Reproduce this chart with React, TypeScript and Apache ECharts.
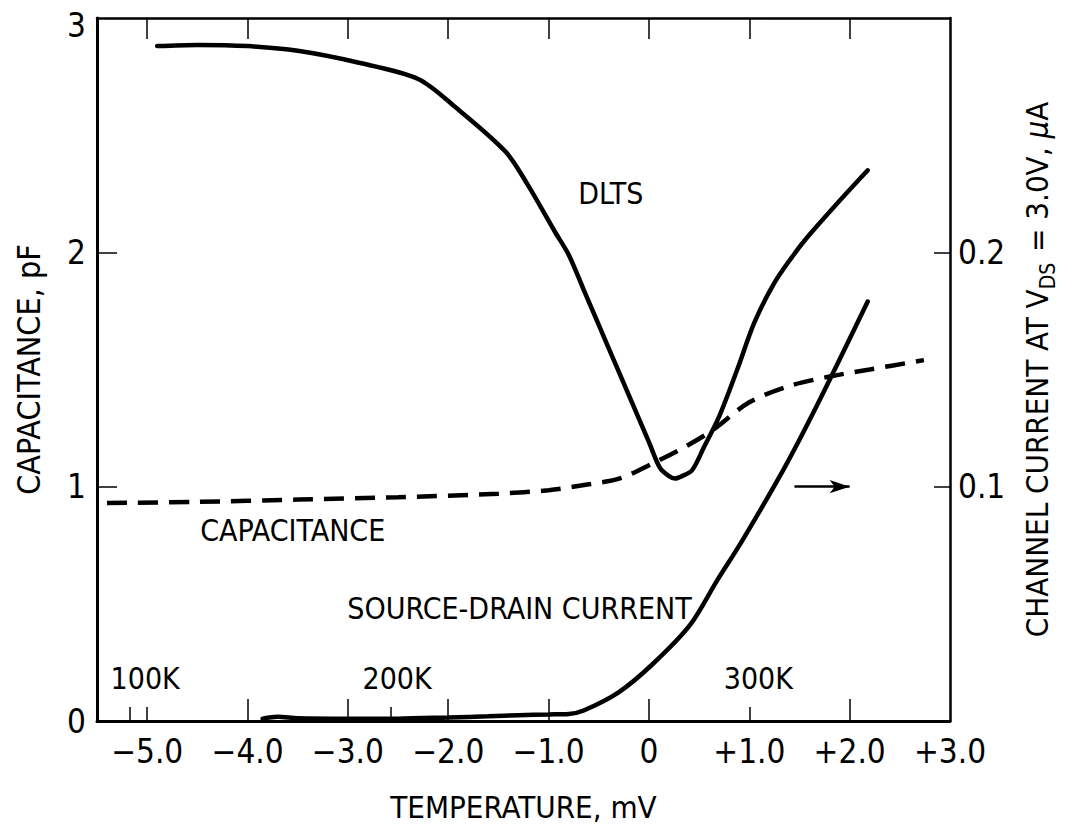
import React, { useEffect, useRef } from "react";
import * as echarts from "echarts";

const FONT = "'Liberation Sans Narrow', 'DejaVu Sans Condensed', 'Arial Narrow', sans-serif";

// Temperature axis (mV) tick labels and ticks
const xLabelValues = [-5, -4, -3, -2, -1, 0, 1, 2, 3];
const xTopTicks = [-5, -4, -3, -2, -1, 0, 1, 2];
const xBottomLongTicks = [-4, -3, -2, -1, 0, 2];
const xBottomShortTicks = [-5.17, -5, -2.57, 1];

// Left axis (capacitance, pF)
const capLabelValues = [0, 1, 2, 3];
const capTicks = [1, 2];
// Right axis (channel current, uA)
const curLabelValues = [0.1, 0.2];

// DLTS curve (mV, pF scale)
const dltsX = [-4.9, -4.5, -4.0, -3.5, -2.9, -2.3, -1.93, -1.43, -1.21, -0.94, -0.8, -0.65, -0.5, -0.35, -0.16, 0.0, 0.11, 0.2, 0.26, 0.33, 0.43, 0.55, 0.7, 0.88, 1.05, 1.25, 1.46, 1.61, 1.9, 2.18];
const dltsY = [2.88, 2.885, 2.88, 2.86, 2.81, 2.74, 2.62, 2.43, 2.29, 2.09, 1.99, 1.84, 1.69, 1.54, 1.35, 1.19, 1.08, 1.045, 1.035, 1.045, 1.07, 1.17, 1.3, 1.5, 1.7, 1.87, 2.0, 2.08, 2.22, 2.35];

// Capacitance curve (mV, pF)
const capX = [-5.4, -4.5, -3.5, -2.5, -1.5, -1.0, -0.6, -0.29, 0.04, 0.36, 0.63, 1.0, 1.4, 1.8, 2.2, 2.74];
const capY = [0.93, 0.935, 0.945, 0.955, 0.97, 0.985, 1.01, 1.035, 1.1, 1.17, 1.24, 1.36, 1.43, 1.47, 1.5, 1.54];

// Source-drain current (mV, uA)
const sdcX = [-3.85, -3.7, -3.5, -3.0, -2.5, -2.0, -1.6, -1.3, -1.0, -0.8, -0.65, -0.31, 0.03, 0.41, 0.68, 0.93, 1.35, 1.69, 2.18];
const sdcY = [0.001, 0.0018, 0.0012, 0.001, 0.001, 0.0015, 0.002, 0.0025, 0.0028, 0.003, 0.0045, 0.012, 0.024, 0.041, 0.06, 0.077, 0.108, 0.136, 0.179];

// Annotations (mV, pF)
const notes = [
  { text: "DLTS", x: -0.38, y: 2.25 },
  { text: "CAPACITANCE", x: -3.55, y: 0.815 },
  { text: "SOURCE-DRAIN CURRENT", x: -1.29, y: 0.48 },
  { text: "100K", x: -5.02, y: 0.18 },
  { text: "200K", x: -2.51, y: 0.18 },
  { text: "300K", x: 1.09, y: 0.18 },
];
const arrowFrom = [1.45, 1.0];
const arrowTo = [2.0, 1.0];

const zip = (a: number[], b: number[]) => a.map((v, i) => [v, b[i]]);

const fmtX = (v: number) => {
  if (Math.abs(v) < 1e-9) return "0";
  return (v < 0 ? "\u2212" : "+") + Math.abs(v).toFixed(1);
};

export default function App() {
  const ref = useRef<HTMLDivElement>(null);
  useEffect(() => {
    const chart = echarts.init(ref.current!, null, { renderer: "svg" });
    const black = "#000";
    const baseX = { type: "value", min: -5.5, max: 3, splitLine: { show: false } };
    chart.setOption({
      animation: false,
      backgroundColor: "#fff",
      grid: { left: 97, right: 106, top: 18, bottom: 102 },
      xAxis: [
        {
          ...baseX,
          position: "bottom",
          axisLine: { show: true, onZero: false, lineStyle: { color: black, width: 3 } },
          axisTick: { show: true, inside: true, length: 22, customValues: xBottomLongTicks, lineStyle: { color: black, width: 1.5 } },
          axisLabel: { customValues: xLabelValues, formatter: fmtX, color: black, fontSize: 33, fontFamily: FONT, margin: 14 },
          name: "TEMPERATURE, mV",
          nameLocation: "middle",
          nameGap: 70,
          nameTextStyle: { color: black, fontSize: 31, fontFamily: FONT },
        },
        {
          ...baseX,
          position: "top",
          axisLine: { show: true, onZero: false, lineStyle: { color: black, width: 2.5 } },
          axisTick: { show: true, inside: true, length: 21, customValues: xTopTicks, lineStyle: { color: black, width: 1.5 } },
          axisLabel: { show: false },
        },
        {
          ...baseX,
          position: "bottom",
          axisLine: { show: false, onZero: false },
          axisTick: { show: true, inside: true, length: 14, customValues: xBottomShortTicks, lineStyle: { color: black, width: 1.5 } },
          axisLabel: { show: false },
        },
      ],
      yAxis: [
        {
          type: "value",
          position: "left",
          min: 0,
          max: 3,
          interval: 1,
          splitLine: { show: false },
          axisLine: { show: true, onZero: false, lineStyle: { color: black, width: 3 } },
          axisTick: { show: true, inside: true, length: 20, customValues: capTicks, lineStyle: { color: black, width: 1.5 } },
          axisLabel: {
            customValues: capLabelValues,
            formatter: (v: number) => (v === 3 ? "{top|3}" : String(v)),
            rich: { top: { padding: [14, 0, 0, 0], fontSize: 33, fontFamily: FONT, color: black } },
            color: black,
            fontSize: 33,
            fontFamily: FONT,
            margin: 11,
          },
          name: "CAPACITANCE, pF",
          nameLocation: "middle",
          nameRotate: 90,
          nameGap: 52,
          nameTextStyle: { color: black, fontSize: 32, fontFamily: FONT },
        },
        {
          type: "value",
          position: "right",
          min: 0,
          max: 0.3,
          interval: 0.1,
          splitLine: { show: false },
          axisLine: { show: true, onZero: false, lineStyle: { color: black, width: 2.5 } },
          axisTick: { show: true, inside: true, length: 16, customValues: curLabelValues, lineStyle: { color: black, width: 1.5 } },
          axisLabel: { customValues: curLabelValues, formatter: (v: number) => v.toFixed(1), color: black, fontSize: 33, fontFamily: FONT, margin: 8 },
          name: "{t|CHANNEL CURRENT AT V}{s|DS}{t| = 3.0V, }{m|\u03bc}{t|A}",
          nameLocation: "middle",
          nameRotate: 90,
          nameGap: 62,
          nameTextStyle: {
            color: black,
            fontFamily: FONT,
            rich: {
              t: { fontSize: 31, fontFamily: FONT, color: black, lineHeight: 40, verticalAlign: "bottom" },
              s: { fontSize: 21, fontFamily: FONT, color: black, lineHeight: 40, verticalAlign: "bottom", padding: [0, 2, -6, 0] },
              m: { fontSize: 31, fontFamily: FONT, fontStyle: "italic", color: black, lineHeight: 40, verticalAlign: "bottom" },
            },
          },
        },
      ],
      series: [
        {
          name: "DLTS",
          type: "line",
          data: zip(dltsX, dltsY),
          smooth: 0.3,
          showSymbol: false,
          silent: true,
          lineStyle: { color: black, width: 4.5, cap: "round" },
          markPoint: {
            silent: true,
            symbol: "circle",
            symbolSize: 0,
            label: { show: true, position: "inside", color: black, fontSize: 30, fontFamily: FONT },
            data: notes.map((n) => ({ coord: [n.x, n.y], value: n.text, label: { formatter: n.text } })),
          },
          markLine: {
            silent: true,
            symbol: ["none", "arrow"],
            symbolSize: [10, 20],
            label: { show: false },
            lineStyle: { color: black, width: 2.5, type: "solid" },
            data: [[{ coord: arrowFrom }, { coord: arrowTo }]],
          },
        },
        {
          name: "CAPACITANCE",
          type: "line",
          data: zip(capX, capY),
          smooth: 0.3,
          showSymbol: false,
          silent: true,
          lineStyle: { color: black, width: 4.5, type: [20, 11] },
        },
        {
          name: "SOURCE-DRAIN CURRENT",
          type: "line",
          yAxisIndex: 1,
          data: zip(sdcX, sdcY),
          smooth: 0.3,
          showSymbol: false,
          silent: true,
          lineStyle: { color: black, width: 4.5, cap: "round" },
        },
      ],
    });
    return () => chart.dispose();
  }, []);
  return <div ref={ref} style={{ position: "fixed", left: 0, top: 0, width: 1066, height: 827, background: "#fff" }} />;
}
